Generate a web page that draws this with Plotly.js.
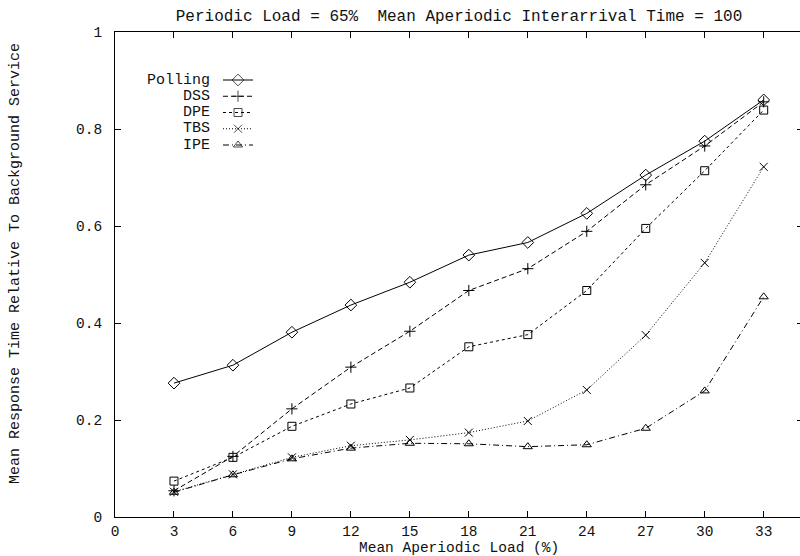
<!DOCTYPE html>
<html><head><meta charset="utf-8">
<script src="https://cdn.plot.ly/plotly-3.0.1.min.js"></script>
<style>html,body{margin:0;padding:0;overflow:hidden;background:#fff}#chart{width:806px;height:556px}</style>
</head><body><div id="chart"></div>
<script>
// ---- data ----
const loads = [3, 6, 9, 12, 15, 18, 21, 24, 27, 30, 33];
const seriesNames = ['Polling', 'DSS', 'DPE', 'TBS', 'IPE'];
const polling = [0.276, 0.313, 0.381, 0.437, 0.484, 0.540, 0.566, 0.626, 0.705, 0.775, 0.860];
const dss     = [0.054, 0.125, 0.223, 0.309, 0.383, 0.467, 0.512, 0.589, 0.685, 0.765, 0.856];
const dpe     = [0.074, 0.123, 0.187, 0.233, 0.266, 0.351, 0.376, 0.467, 0.595, 0.714, 0.839];
const tbs     = [0.052, 0.088, 0.123, 0.147, 0.159, 0.174, 0.198, 0.262, 0.375, 0.524, 0.722];
const ipe     = [0.051, 0.087, 0.120, 0.142, 0.152, 0.151, 0.145, 0.149, 0.183, 0.260, 0.454];
const xTickVals = [0, 3, 6, 9, 12, 15, 18, 21, 24, 27, 30, 33];
const yTickVals = [0, 0.2, 0.4, 0.6, 0.8, 1];
const yTickText = ['0', '0.2', '0.4', '0.6', '0.8', '1'];
const titleText = 'Periodic Load = 65%  Mean Aperiodic Interarrival Time = 100';
const xTitle = 'Mean Aperiodic Load (%)';
const yTitle = 'Mean Response Time Relative To Background Service';

// ---- styles ----
const seriesValues = [polling, dss, dpe, tbs, ipe];
const symbols = ['diamond-open', 'cross-thin-open', 'square-open', 'x-thin-open', 'triangle-up-open'];
const symSizes = [9, 8, 8, 8, 8];
const dashes = ['solid', '5px,3px', '3px,3px', '1px,2px', '6px,3px,1px,3px'];
const FONT = '"Liberation Mono", "DejaVu Sans Mono", monospace';
const TXT = '#111';
const W = 806, H = 556, ML = 115, MR = 3, MT = 32, MB = 39;
const PW = W - ML - MR, PH = H - MT - MB;

// legend layout (pixels in the figure)
const legTextRight = 212, legX0 = 223, legX1 = 253, legTop = 80, legStep = 16.25;

const traces = [];
seriesNames.forEach((name, i) => {
  traces.push({
    type: 'scatter', mode: 'lines+markers', name: name,
    x: loads, y: seriesValues[i],
    line: {color: '#000', width: 1, dash: dashes[i]},
    marker: {symbol: symbols[i], size: symSizes[i], color: '#000', line: {color: '#000', width: 1}},
    showlegend: false, hoverinfo: 'x+y+name'
  });
});
// manual legend samples on a pixel overlay axis
const annotations = [];
seriesNames.forEach((name, i) => {
  const yy = legTop + i * legStep - MT;
  const xa = legX0 - ML, xb = legX1 - ML;
  traces.push({
    type: 'scatter', mode: 'lines+markers', xaxis: 'x2', yaxis: 'y2',
    x: [xa, (xa + xb) / 2, xb], y: [yy, yy, yy],
    line: {color: '#000', width: 1, dash: dashes[i]},
    marker: {symbol: symbols[i], size: [0, symSizes[i], 0], color: '#000', line: {color: '#000', width: 1}},
    showlegend: false, hoverinfo: 'skip'
  });
  annotations.push({
    xref: 'x2', yref: 'y2', x: legTextRight - ML, y: yy, xanchor: 'right', yanchor: 'middle',
    text: name, showarrow: false, font: {family: FONT, size: 15, color: TXT}
  });
});
annotations.push({
  xref: 'paper', yref: 'paper', x: 0.5, y: (517 - 548) / PH, xanchor: 'center', yanchor: 'middle',
  text: xTitle, showarrow: false, font: {family: FONT, size: 14.5, color: TXT}
});
annotations.push({
  xref: 'paper', yref: 'paper', x: (15 - ML) / PW, y: 1 - (264 - MT) / PH, xanchor: 'center', yanchor: 'middle',
  text: yTitle, textangle: -90, showarrow: false, font: {family: FONT, size: 15, color: TXT}
});

const axisCommon = {
  showgrid: false, zeroline: false, showline: true, linecolor: '#000', linewidth: 1,
  mirror: 'ticks', ticks: 'inside', ticklen: 6, tickwidth: 1, tickcolor: '#000',
  tickfont: {family: FONT, size: 14.5, color: TXT}
};

const layout = {
  width: W, height: H,
  margin: {l: ML, r: MR, t: MT, b: MB, pad: 0},
  paper_bgcolor: '#fff', plot_bgcolor: '#fff',
  title: {text: titleText, font: {family: FONT, size: 16, color: TXT},
          xref: 'paper', x: 0.5, xanchor: 'center', yref: 'container', y: 1 - 15 / H, yanchor: 'middle'},
  xaxis: Object.assign({}, axisCommon, {range: [0, 35], tickmode: 'array', tickvals: xTickVals, ticklabelstandoff: 1}),
  yaxis: Object.assign({}, axisCommon, {range: [0, 1], tickmode: 'array', tickvals: yTickVals, ticktext: yTickText, ticklabelstandoff: 9}),
  xaxis2: {overlaying: 'x', range: [0, PW], visible: false, fixedrange: true},
  yaxis2: {overlaying: 'y', range: [PH, 0], visible: false, fixedrange: true},
  annotations: annotations,
  showlegend: false
};

Plotly.newPlot('chart', traces, layout, {staticPlot: true, displayModeBar: false});
</script>
</body></html>
